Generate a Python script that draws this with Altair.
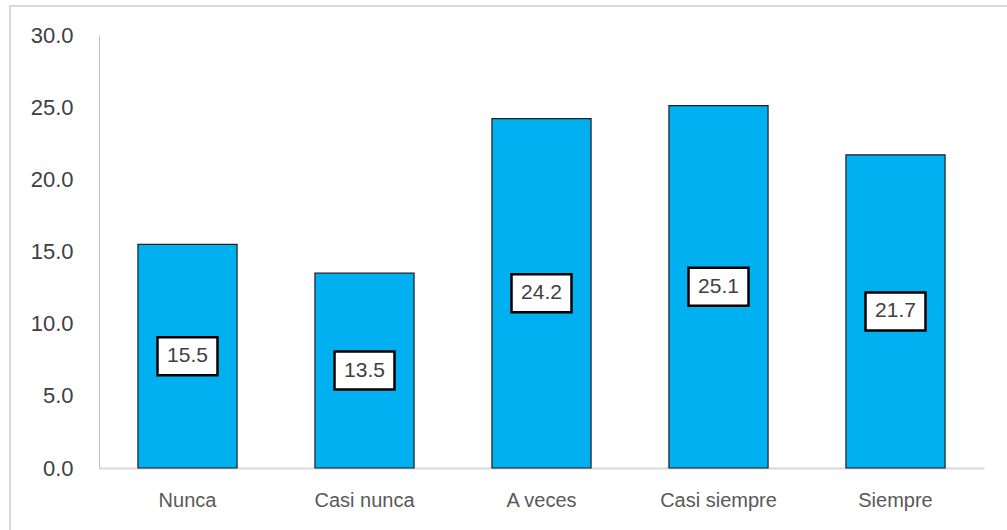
import altair as alt
import pandas as pd

categories = ["Nunca", "Casi nunca", "A veces", "Casi siempre", "Siempre"]
values = [15.5, 13.5, 24.2, 25.1, 21.7]
y_ticks = [0, 5, 10, 15, 20, 25, 30]

df = pd.DataFrame({"categoria": categories, "valor": values})
df["mitad"] = df["valor"] / 2
df["etiqueta"] = df["valor"].map(lambda v: f"{v:.1f}")

W, H = 885, 433
FONT = "Liberation Sans"

x_enc = alt.X(
    "categoria:N",
    sort=categories,
    scale=alt.Scale(paddingInner=0.44, paddingOuter=0.22),
    axis=alt.Axis(
        title=None, labelAngle=0, labelFontSize=20, labelColor="#595959",
        labelFont=FONT, labelPadding=22, ticks=False, domainColor="#d9d9d9",
        domainWidth=2,
    ),
)

base = alt.Chart(df)

# light frame around the whole figure
frame = base.mark_rect(fill=None, stroke="#d9d9d9", strokeWidth=2, clip=False).encode(
    x=alt.value(-89), x2=alt.value(920), y=alt.value(-29), y2=alt.value(520)
).transform_filter(alt.datum.categoria == "Nunca")

bars = base.mark_bar(color="#00B0F0", stroke="#1f1f1f", strokeWidth=1.2).encode(
    x=x_enc,
    y=alt.Y(
        "valor:Q",
        scale=alt.Scale(domain=[0, 30], nice=False),
        axis=alt.Axis(
            title=None, values=y_ticks, format=".1f", grid=False, ticks=False,
            labelFontSize=22, labelColor="#404040", labelFont=FONT, labelPadding=26,
            domainColor="#bfbfbf",
        ),
    ),
)

boxes = base.mark_rect(fill="white", stroke="black", strokeWidth=2.5, width=60, height=38).encode(
    x=alt.X("categoria:N", sort=categories),
    y=alt.Y("mitad:Q"),
)

labels = base.mark_text(fontSize=21, color="#404040", font=FONT).encode(
    x=alt.X("categoria:N", sort=categories),
    y=alt.Y("mitad:Q"),
    text="etiqueta:N",
)

chart = (
    alt.layer(frame, bars, boxes, labels)
    .properties(width=W, height=H, background="white",
                autosize=alt.AutoSizeParams(type="none"),
                padding={"left": 99, "top": 35, "right": 23, "bottom": 62})
    .configure_view(stroke="transparent", strokeWidth=0)
)

chart.save("out.html", embed_options={"renderer": "svg", "actions": False})
